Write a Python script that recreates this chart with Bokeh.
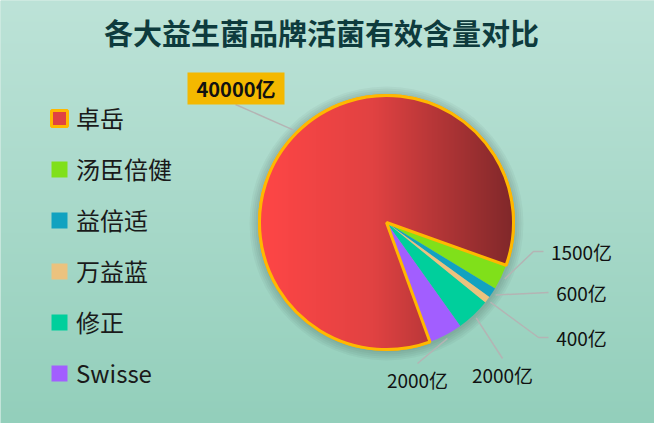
import numpy as np
from bokeh.plotting import figure
from bokeh.models import Range1d, Legend, LegendItem, ColumnDataSource
from bokeh.core.properties import value
from bokeh.embed import file_html
from bokeh.resources import INLINE

title = "各大益生菌品牌活菌有效含量对比"
brands = ["卓岳", "汤臣倍健", "益倍适", "万益蓝", "修正", "Swisse"]
amounts = [40000, 1500, 600, 400, 2000, 2000]
unit = "亿"
colors = ["#e04242", "#80e01a", "#12a2c0", "#ebc27e", "#00cf9c", "#a25eff"]

FONT = value("Noto Sans CJK SC")
W, H = 654, 423


def px(X):
    # page pixel -> data x
    return X


def py(Y):
    return H - Y


cx, cy, R = px(386), py(222), 127
start = np.deg2rad(-70.0)

vals = np.array(amounts, dtype=float)
spans = 2 * np.pi * vals / vals.sum()
starts = start - np.concatenate([[0], np.cumsum(spans)[:-1]])
ends = starts - spans
mids = (starts + ends) / 2

p = figure(width=W, height=H, x_range=Range1d(0, W), y_range=Range1d(0, H),
           x_axis_type=None, y_axis_type=None, output_backend="svg",
           toolbar_location=None, min_border=0)
p.grid.visible = False
p.outline_line_color = None
p.background_fill_color = "#a8d9c9"
p.border_fill_color = "#a8d9c9"


def rgba_image(r, g, b, a):
    img = np.zeros(r.shape, dtype=np.uint32)
    v = img.view(dtype=np.uint8).reshape(r.shape + (4,))
    v[..., 0], v[..., 1], v[..., 2], v[..., 3] = r, g, b, a
    return img


# background: vertical gradient, row 0 is the bottom
t = np.linspace(0, 1, H)[:, None] * np.ones((1, 4))
top, bot = (189, 227, 216), (147, 207, 187)
bg = rgba_image(*(bot[k] + (top[k] - bot[k]) * t for k in range(3)), np.full(t.shape, 255))
p.image_rgba(image=[bg], x=0, y=0, dw=W, dh=H)

# soft shadow round the pie
for k in range(1, 6):
    p.circle(x=cx, y=cy - 1, radius=R + 2 * k, fill_color="black", fill_alpha=0.035, line_color=None)

src = ColumnDataSource(dict(
    start=starts, end=ends, color=colors,
    lw=[3] + [0] * 5, la=[1] + [0] * 5,
))
pie = p.wedge(x=cx, y=cy, radius=R, start_angle="start", end_angle="end", direction="clock",
              fill_color="color", line_color="#ffb800", line_width="lw", line_alpha="la", source=src)

# horizontal red gradient over the big slice
n = 2 * R + 8
x0, y0 = cx - n // 2, cy - n // 2
gx = x0 + np.arange(n) + 0.5
gy = y0 + np.arange(n) + 0.5
GX, GY = np.meshgrid(gx, gy)
rr = np.hypot(GX - cx, GY - cy)
ang = np.arctan2(GY - cy, GX - cx)
small = (ang > starts[0]) & (ang < ends[0] + 2 * np.pi)
alpha = np.where(small, 0, np.clip(R + 1 - rr, 0, 1)) * 255
tx = np.clip((GX - (cx - R)) / (2 * R), 0, 1)
stops = [0, 0.45, 1]
cr = np.interp(tx, stops, [255, 225, 128])
cg = np.interp(tx, stops, [70, 66, 40])
cb = np.interp(tx, stops, [70, 66, 42])
p.image_rgba(image=[rgba_image(cr, cg, cb, alpha)], x=x0, y=y0, dw=n, dh=n)

p.wedge(x=cx, y=cy, radius=R, start_angle=starts[0], end_angle=ends[0], direction="clock",
        fill_color=None, line_color="#ffb800", line_width=3)

# leader lines and labels (page coords of elbow, end and label centre)
elbows = [(235, 104), (533, 251), (548, 292), (538, 337), (502, 358), (417, 363)]
line_ends = [(235, 104), (543, 251), (548, 292), (548, 337), (502, 358), (417, 363)]
label_pos = [(235.5, 88), (581, 251), (581, 292), (581, 337), (502, 374), (417, 379)]

xs, ys = [], []
for m, (ex, ey), (fx, fy) in zip(mids, elbows, line_ends):
    xs.append([cx + (R + 4) * np.cos(m), px(ex), px(fx)])
    ys.append([cy + (R + 4) * np.sin(m), py(ey), py(fy)])
p.multi_line(xs=xs, ys=ys, line_color="#b4b4b4", line_width=1.5)

labels = [f"{a}{unit}" for a in amounts]
lx = [px(a) for a, b in label_pos]
ly = [py(b) for a, b in label_pos]

p.rect(x=lx[0], y=ly[0], width=97, height=32, fill_color="#f4b800", line_color=None)
p.text(x=lx[:1], y=ly[:1], text=labels[:1], text_font=FONT, text_font_style="bold",
       text_font_size="20px", text_color="#111111", text_align="center", text_baseline="middle")
p.text(x=lx[1:], y=ly[1:], text=labels[1:], text_font=FONT, text_font_size="19px",
       text_color="#111111", text_align="center", text_baseline="middle")

p.text(x=[px(321)], y=[py(31)], text=[title], text_font=FONT, text_font_style="bold",
       text_font_size="29px", text_color="#0e3b3d", text_align="center", text_baseline="middle")

items = [LegendItem(label=b, renderers=[pie], index=i) for i, b in enumerate(brands)]
legend = Legend(items=items, location=(49, 33), glyph_width=20, glyph_height=20,
                label_standoff=7, spacing=16, label_text_font="Noto Sans CJK SC",
                label_text_font_size="24px", label_text_color="#1a1a1a", padding=0, margin=0,
                border_line_alpha=0, background_fill_alpha=0)
p.add_layout(legend)

open("out.html", "w").write(file_html(p, INLINE))
